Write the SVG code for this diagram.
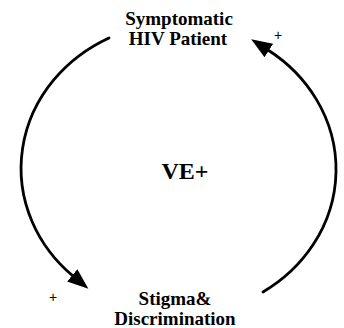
<svg xmlns="http://www.w3.org/2000/svg" width="344" height="328" viewBox="0 0 344 328">
<style>
.lbl{font-family:"Liberation Serif","Times New Roman",serif;font-weight:bold;font-size:19px;fill:#000;text-anchor:middle}
.big{font-size:24px}
.sign{font-family:"Liberation Sans",Arial,sans-serif;font-size:14px;fill:#000;text-anchor:middle}
.arc{fill:none;stroke:#000;stroke-width:2.8;stroke-linecap:round}
</style>
<defs>
<marker id="ah" markerUnits="userSpaceOnUse" markerWidth="22" markerHeight="16" refX="1" refY="8" orient="auto">
<path d="M0,0 L21,8 L0,16 Z" fill="#000"/>
</marker>
</defs>
<rect width="344" height="328" fill="#fff"/>
<g id="connectors">
<path id="arc-left" class="arc" d="M109,38 A160,146 0 0 0 73,276" marker-end="url(#ah)"/>
<path id="arc-right" class="arc" d="M263,292 A160,146 0 0 0 268,50" marker-end="url(#ah)"/>
<text class="sign" x="53" y="302">+</text>
<text class="sign" x="278" y="40">+</text>
</g>
<g id="node-patient">
<text class="lbl" x="179" y="25">Symptomatic</text>
<text class="lbl" x="178" y="45">HIV Patient</text>
</g>
<g id="node-center">
<text class="lbl big" x="185" y="179">VE+</text>
</g>
<g id="node-stigma">
<text class="lbl" x="175" y="305">Stigma&amp;</text>
<text class="lbl" x="175" y="325">Discrimination</text>
</g>
</svg>
